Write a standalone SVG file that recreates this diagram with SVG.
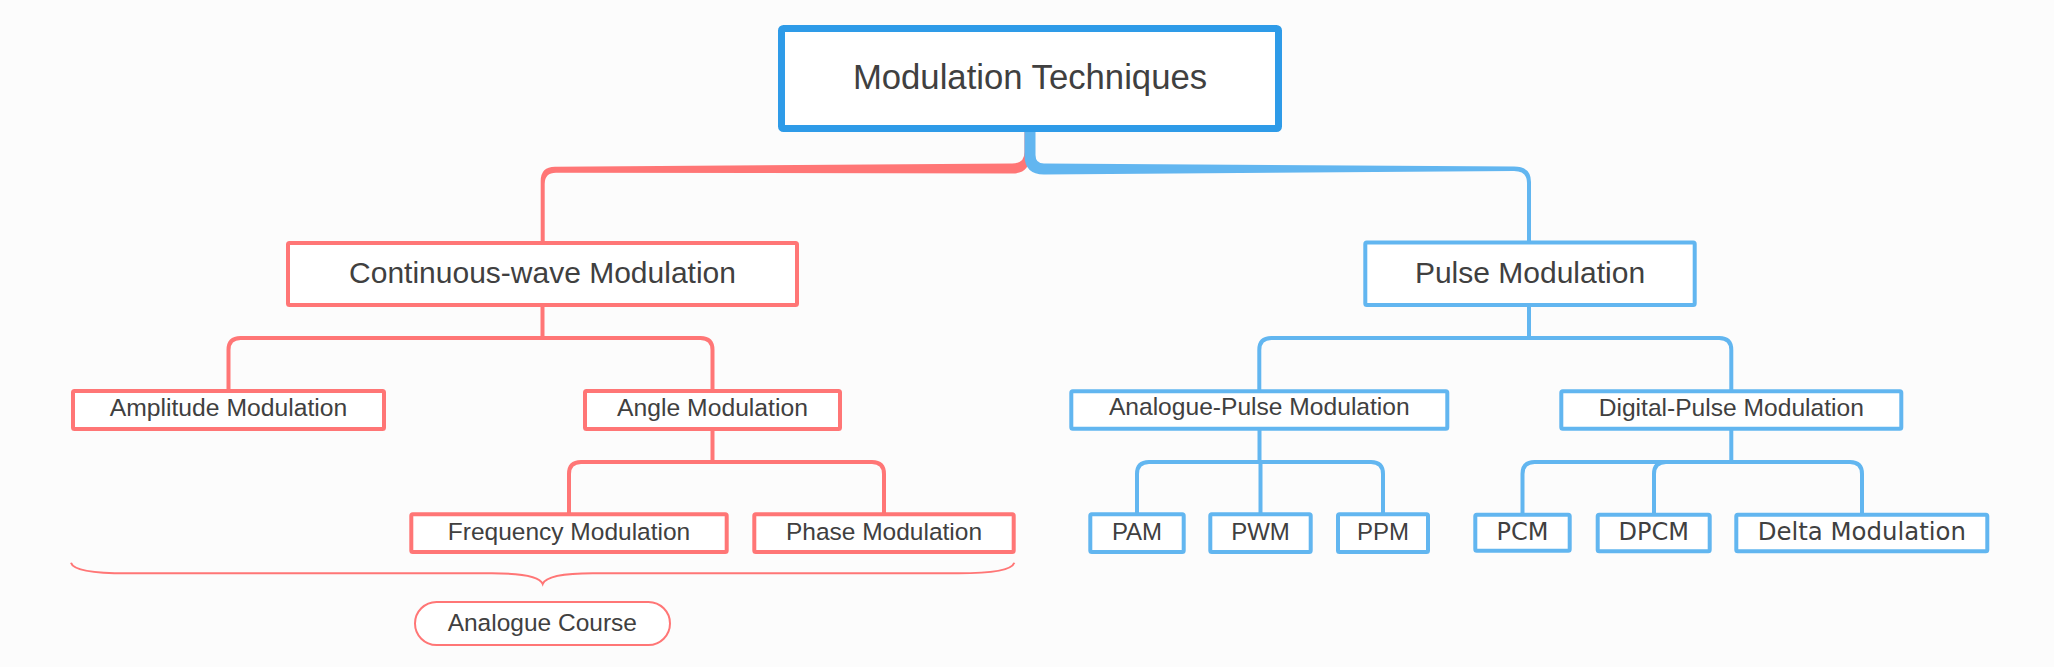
<svg xmlns="http://www.w3.org/2000/svg" width="2054" height="667" viewBox="0 0 2054 667">
<style>
.bg{fill:#fcfcfc}
.r{fill:#ffffff;stroke:#ff7676;stroke-width:4}
.b{fill:#ffffff;stroke:#62b6f0;stroke-width:4}
.root{fill:#ffffff;stroke:#2e9be8;stroke-width:7}
.cr{fill:none;stroke:#ff7676;stroke-width:4;stroke-linejoin:round}
.cb{fill:none;stroke:#62b6f0;stroke-width:4;stroke-linejoin:round}
.t{font-family:"Liberation Sans",Arial,sans-serif;fill:#404040;text-anchor:middle}
.d{font-family:"DejaVu Sans",sans-serif;fill:#404040;text-anchor:middle}
</style>
<rect class="bg" x="0" y="0" width="2054" height="667"/>
<g id="connectors">
<path fill="#ff7676" d="M1024.5,130 L1030,130 L1030,155 Q1030,173.5 1012,173.5 L556,172.7 Q544.7,172.7 544.7,184 L544.7,243 L540.7,243 L540.7,181 Q540.7,166.7 555,166.7 L1012,163.5 Q1024.5,163.5 1024.5,152 Z"/>
<path fill="#62b6f0" d="M1024.5,130 L1035.5,130 L1035.5,155 Q1035.5,163.5 1044,163.5 L1514,166.5 Q1531,166.5 1531,182 L1531,243 L1527,243 L1527,183 Q1527,171 1514,171 L1044,174.5 Q1024.5,174.5 1024.5,155 Z"/>
<path class="cr" d="M542.5,305 V338 M542.5,338 H240.5 Q228.5,338 228.5,350 V391 M542.5,338 H700.5 Q712.5,338 712.5,350 V391"/>
<path class="cr" d="M712.5,429 V462 M712.5,462 H581 Q569,462 569,474 V514 M712.5,462 H872 Q884,462 884,474 V514"/>
<path class="cb" d="M1529,305 V338 M1529,338 H1271.3 Q1259.3,338 1259.3,350 V391 M1529,338 H1719.3 Q1731.3,338 1731.3,350 V391"/>
<path class="cb" d="M1259.5,429 V462 M1259.5,462 H1149 Q1137,462 1137,474 V514 M1260.5,462 V514 M1259.5,462 H1371 Q1383,462 1383,474 V514"/>
<path class="cb" d="M1731.3,429 V462 M1731.3,462 H1534.5 Q1522.5,462 1522.5,474 V514 M1731.3,462 H1666 Q1654,462 1654,474 V514 M1731.3,462 H1850 Q1862,462 1862,474 V514"/>
</g>
<g id="root">
<rect class="root" x="781.5" y="28.5" width="497" height="100" rx="2"/>
<text class="t" x="1030" y="89" font-size="34.7">Modulation Techniques</text>
</g>
<g id="continuous">
<rect class="r" x="288" y="243" width="509" height="62" rx="1.5"/>
<text class="t" x="542.5" y="282.7" font-size="30">Continuous-wave Modulation</text>
</g>
<g id="pulse">
<rect class="b" x="1365.3" y="242.5" width="329.4" height="62.5" rx="1.5"/>
<text class="t" x="1530" y="283.3" font-size="30">Pulse Modulation</text>
</g>
<g id="amplitude">
<rect class="r" x="73" y="391" width="311" height="38" rx="1.5"/>
<text class="t" x="228.5" y="416" font-size="24.7">Amplitude Modulation</text>
</g>
<g id="angle">
<rect class="r" x="585" y="391" width="255" height="38" rx="1.5"/>
<text class="t" x="712.5" y="416" font-size="24.7">Angle Modulation</text>
</g>
<g id="analogue-pulse">
<rect class="b" x="1071.3" y="391.3" width="376" height="37.5" rx="1.5"/>
<text class="t" x="1259.3" y="415.3" font-size="24.6">Analogue-Pulse Modulation</text>
</g>
<g id="digital-pulse">
<rect class="b" x="1561.3" y="391.3" width="340" height="37.5" rx="1.5"/>
<text class="t" x="1731.3" y="415.7" font-size="24.6">Digital-Pulse Modulation</text>
</g>
<g id="frequency">
<rect class="r" x="411.3" y="514.3" width="315.4" height="37.7" rx="1.5"/>
<text class="t" x="569" y="540" font-size="24.5">Frequency Modulation</text>
</g>
<g id="phase">
<rect class="r" x="754.3" y="514.3" width="259.4" height="37.7" rx="1.5"/>
<text class="t" x="884" y="540" font-size="24.5">Phase Modulation</text>
</g>
<g id="pam">
<rect class="b" x="1090.3" y="514.3" width="93.4" height="37.7" rx="1.5"/>
<text class="t" x="1137" y="540" font-size="24">PAM</text>
</g>
<g id="pwm">
<rect class="b" x="1210.3" y="514.3" width="100.4" height="37.7" rx="1.5"/>
<text class="t" x="1260.5" y="540" font-size="24">PWM</text>
</g>
<g id="ppm">
<rect class="b" x="1338" y="514.3" width="90" height="37.7" rx="1.5"/>
<text class="t" x="1383" y="540" font-size="24">PPM</text>
</g>
<g id="pcm">
<rect class="b" x="1475.3" y="514.7" width="94.4" height="36" rx="1.5"/>
<text class="d" x="1522.5" y="540" font-size="24">PCM</text>
</g>
<g id="dpcm">
<rect class="b" x="1597.7" y="514.7" width="112" height="36.6" rx="1.5"/>
<text class="d" x="1653.7" y="540" font-size="24">DPCM</text>
</g>
<g id="delta">
<rect class="b" x="1736.3" y="514.7" width="251" height="36.6" rx="1.5"/>
<text class="d" x="1861.8" y="539.5" font-size="24.4">Delta Modulation</text>
</g>
<g id="brace">
<path fill="none" stroke="#ff7676" stroke-width="2" d="M71,562.7 C73,570 95,573.3 127,573.3 L491.7,573.3 C525,573.3 540,577 542.7,584 C545.4,577 560,573.3 593,573.3 L958,573.3 C990,573.3 1012,570 1014.3,562.7"/>
</g>
<g id="analogue-course">
<rect x="415" y="602" width="255" height="43" rx="21.5" fill="#ffffff" stroke="#ff7676" stroke-width="2"/>
<text class="t" x="542.3" y="630.7" font-size="24.5">Analogue Course</text>
</g>
</svg>
